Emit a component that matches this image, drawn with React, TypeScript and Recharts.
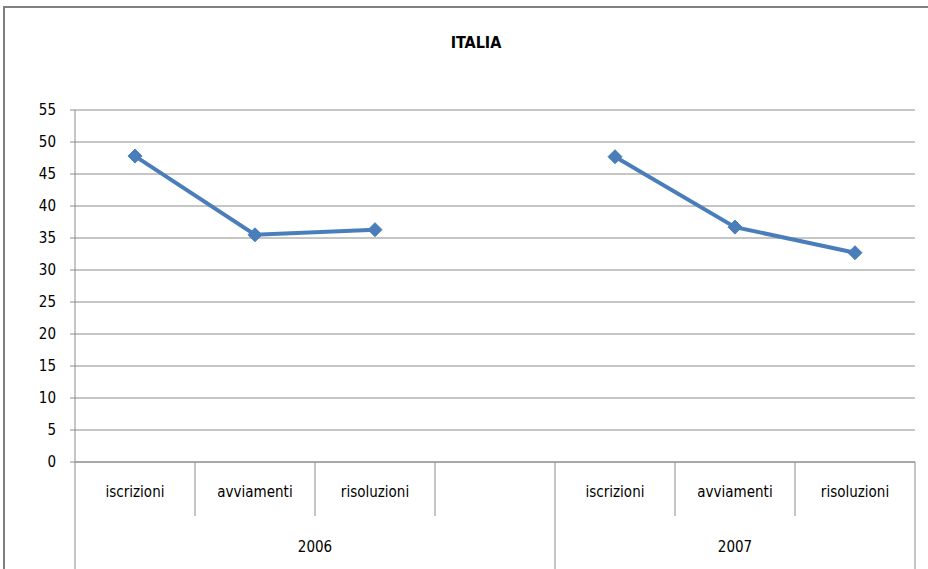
import { LineChart, Line, XAxis, YAxis, CartesianGrid } from 'recharts';

const categories = ['iscrizioni', 'avviamenti', 'risoluzioni', '', 'iscrizioni', 'avviamenti', 'risoluzioni'];
const years = ['2006', '2006', '2006', '2006', '2007', '2007', '2007'];
const values = [47.8, 35.5, 36.3, null, 47.7, 36.7, 32.7];
const yTicks = [0, 5, 10, 15, 20, 25, 30, 35, 40, 45, 50, 55];

const W = 928;
const H = 569;
const margin = { top: 110, right: 13, bottom: 0, left: 0 };
const yAxisWidth = 75;
const catAxisHeight = 54;
const yearAxisHeight = 53;
const plotBottom = H - margin.bottom - catAxisHeight - yearAxisHeight;
const bandWidth = (W - margin.left - margin.right - yAxisWidth) / categories.length;
const bandPad = { left: bandWidth / 2, right: bandWidth / 2 };

const FONT = '"DejaVu Sans Condensed", "Liberation Sans Narrow", "Liberation Sans", sans-serif';
const GRID = '#8c8c8c';
const BLUE = '#4a7ebb';

const data = categories.map((cat, i) => ({ cat, year: years[i], value: values[i] }));

function CategoryTick(props: any) {
  const { x, payload } = props;
  const right = x + bandWidth / 2;
  const isLast = payload.index === categories.length - 1;
  const groupEnd = payload.index < years.length - 1 && years[payload.index + 1] !== years[payload.index];
  return (
    <g>
      <text x={x} y={plotBottom + 35} textAnchor="middle" fill="#000" fontSize={15} fontFamily={FONT}>
        {payload.value}
      </text>
      {!isLast && !groupEnd && (
        <line x1={right} x2={right} y1={plotBottom} y2={plotBottom + catAxisHeight} stroke={GRID} strokeWidth={1} />
      )}
    </g>
  );
}

function YearTick(props: any) {
  const { x, payload } = props;
  const i = payload.index;
  const first = i === 0 || years[i - 1] !== years[i];
  const last = i === years.length - 1;
  if (!first && !last) return null;
  let count = 0;
  while (i + count < years.length && years[i + count] === years[i]) count++;
  const left = x - bandWidth / 2;
  return (
    <g>
      {first && (
        <>
          <line x1={left} x2={left} y1={plotBottom} y2={H} stroke={GRID} strokeWidth={1} />
          <text x={left + (count * bandWidth) / 2} y={plotBottom + 90} textAnchor="middle" fill="#000" fontSize={15} fontFamily={FONT}>
            {years[i]}
          </text>
        </>
      )}
      {last && <line x1={x + bandWidth / 2} x2={x + bandWidth / 2} y1={plotBottom} y2={H} stroke={GRID} strokeWidth={1} />}
    </g>
  );
}

function Diamond(props: any) {
  const { cx, cy, value } = props;
  if (value == null || cx == null || cy == null) return null;
  const r = 7;
  return (
    <polygon
      points={`${cx},${cy - r} ${cx + r},${cy} ${cx},${cy + r} ${cx - r},${cy}`}
      fill={BLUE}
      stroke={BLUE}
      strokeWidth={1}
    />
  );
}

export default function App() {
  return (
    <div style={{ position: 'absolute', left: 0, top: 0, width: W, height: H, background: '#fff', overflow: 'hidden' }}>
      <div
        style={{
          position: 'absolute',
          left: 3,
          top: 6,
          width: W,
          height: H,
          borderLeft: '2px solid #7f7f7f',
          borderTop: '2px solid #7f7f7f',
        }}
      />
      <div
        style={{
          position: 'absolute',
          left: 0,
          top: 33,
          width: 952,
          textAlign: 'center',
          fontFamily: FONT,
          fontWeight: 'bold',
          fontSize: 16,
          color: '#000',
        }}
      >
        ITALIA
      </div>
      <div style={{ position: 'absolute', left: 0, top: 0 }}>
        <LineChart width={W} height={H} data={data} margin={margin}>
          <CartesianGrid vertical={false} stroke={GRID} strokeWidth={1} />
          <YAxis
            width={yAxisWidth}
            domain={[0, 55]}
            ticks={yTicks}
            interval={0}
            tickSize={5}
            tickMargin={14}
            axisLine={{ stroke: GRID }}
            tickLine={{ stroke: GRID }}
            tick={{ fill: '#000', fontSize: 15, fontFamily: FONT }}
          />
          <XAxis
            dataKey="cat"
            height={catAxisHeight}
            interval={0}
            padding={bandPad}
            axisLine={{ stroke: GRID }}
            tickLine={false}
            tick={<CategoryTick />}
          />
          <XAxis
            xAxisId="year"
            dataKey="year"
            height={yearAxisHeight}
            interval={0}
            padding={bandPad}
            axisLine={false}
            tickLine={false}
            tick={<YearTick />}
          />
          <Line
            dataKey="value"
            stroke={BLUE}
            strokeWidth={4}
            dot={<Diamond />}
            activeDot={false}
            connectNulls={false}
            isAnimationActive={false}
          />
        </LineChart>
      </div>
    </div>
  );
}
